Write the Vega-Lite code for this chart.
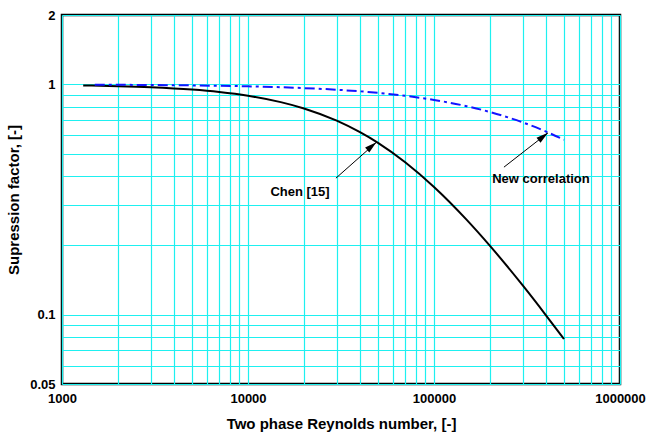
{
  "$schema": "https://vega.github.io/schema/vega-lite/v6.json",
  "width": 558,
  "height": 369,
  "autosize": {"type": "none"},
  "padding": {"left": 62, "top": 15, "right": 27, "bottom": 54},
  "background": "white",
  "config": {
    "font": "Liberation Sans",
    "view": {"stroke": "black", "strokeWidth": 2.5},
    "axis": {
      "labelFont": "Liberation Sans",
      "labelFontWeight": "bold",
      "labelFontSize": 13,
      "labelColor": "black",
      "titleFont": "Liberation Sans",
      "titleFontWeight": "bold",
      "titleFontSize": 15,
      "titleColor": "black",
      "ticks": false,
      "domain": false,
      "grid": true,
      "gridColor": "#1ef0f0",
      "gridWidth": 1.2,
      "gridOpacity": 1,
      "labelOverlap": false,
      "labelFlush": false
    }
  },
  "datasets": {
    "curves": [
      {"Re": 1300, "S": 0.989, "series": "Chen [15]"},
      {"Re": 2000, "S": 0.9819, "series": "Chen [15]"},
      {"Re": 3000, "S": 0.9712, "series": "Chen [15]"},
      {"Re": 5000, "S": 0.9489, "series": "Chen [15]"},
      {"Re": 7000, "S": 0.926, "series": "Chen [15]"},
      {"Re": 10000, "S": 0.8919, "series": "Chen [15]"},
      {"Re": 15000, "S": 0.837, "series": "Chen [15]"},
      {"Re": 20000, "S": 0.7857, "series": "Chen [15]"},
      {"Re": 30000, "S": 0.6953, "series": "Chen [15]"},
      {"Re": 40000, "S": 0.6196, "series": "Chen [15]"},
      {"Re": 50000, "S": 0.5568, "series": "Chen [15]"},
      {"Re": 70000, "S": 0.4587, "series": "Chen [15]"},
      {"Re": 100000, "S": 0.3583, "series": "Chen [15]"},
      {"Re": 150000, "S": 0.2579, "series": "Chen [15]"},
      {"Re": 200000, "S": 0.1989, "series": "Chen [15]"},
      {"Re": 300000, "S": 0.1339, "series": "Chen [15]"},
      {"Re": 400000, "S": 0.0994, "series": "Chen [15]"},
      {"Re": 500000, "S": 0.0784, "series": "Chen [15]"},
      {"Re": 1500, "S": 0.9965, "series": "New correlation"},
      {"Re": 2000, "S": 0.9954, "series": "New correlation"},
      {"Re": 3000, "S": 0.9934, "series": "New correlation"},
      {"Re": 5000, "S": 0.9894, "series": "New correlation"},
      {"Re": 7000, "S": 0.9856, "series": "New correlation"},
      {"Re": 10000, "S": 0.9802, "series": "New correlation"},
      {"Re": 15000, "S": 0.9714, "series": "New correlation"},
      {"Re": 20000, "S": 0.9631, "series": "New correlation"},
      {"Re": 30000, "S": 0.9473, "series": "New correlation"},
      {"Re": 50000, "S": 0.9183, "series": "New correlation"},
      {"Re": 70000, "S": 0.8918, "series": "New correlation"},
      {"Re": 100000, "S": 0.8559, "series": "New correlation"},
      {"Re": 150000, "S": 0.8035, "series": "New correlation"},
      {"Re": 200000, "S": 0.7582, "series": "New correlation"},
      {"Re": 300000, "S": 0.6836, "series": "New correlation"},
      {"Re": 400000, "S": 0.6237, "series": "New correlation"},
      {"Re": 500000, "S": 0.5745, "series": "New correlation"}
    ],
    "arrows": [
      {"label": "Chen [15]", "Re": 49000, "S": 0.56, "Re2": 29700, "S2": 0.3915},
      {"label": "New correlation", "Re": 410000, "S": 0.616, "Re2": 237700, "S2": 0.437}
    ],
    "labels": [
      {"label": "Chen [15]", "Re": 19040, "S": 0.34},
      {"label": "New correlation", "Re": 375800, "S": 0.3876}
    ]
  },
  "encoding": {
    "x": {
      "field": "Re", "type": "quantitative",
      "scale": {"type": "log", "domain": [1000, 1000000], "nice": false},
      "axis": {
        "title": "Two phase Reynolds number, [-]",
        "values": [1000, 2000, 3000, 4000, 5000, 6000, 7000, 8000, 9000, 10000, 20000, 30000, 40000, 50000, 60000, 70000, 80000, 90000, 100000, 200000, 300000, 400000, 500000, 600000, 700000, 800000, 900000, 1000000],
        "labelExpr": "(datum.value == 1000 || datum.value == 10000 || datum.value == 100000 || datum.value == 1000000) ? format(datum.value, 'd') : ''",
        "labelPadding": 8,
        "titlePadding": 11
      }
    },
    "y": {
      "field": "S", "type": "quantitative",
      "scale": {"type": "log", "domain": [0.05, 2], "nice": false},
      "axis": {
        "title": "Supression factor, [-]",
        "values": [0.05, 0.06, 0.07, 0.08, 0.09, 0.1, 0.2, 0.3, 0.4, 0.5, 0.6, 0.7, 0.8, 0.9, 1, 2],
        "labelExpr": "(datum.value == 0.05 || datum.value == 0.1 || datum.value == 1 || datum.value == 2) ? format(datum.value, '~g') : ''",
        "labelPadding": 7,
        "titlePadding": 8
      }
    }
  },
  "layer": [
    {
      "data": {"name": "curves"},
      "transform": [{"filter": "datum.series == 'Chen [15]'"}],
      "mark": {"type": "line", "color": "black", "strokeWidth": 2, "interpolate": "monotone", "clip": true},
      "encoding": {"order": {"field": "Re", "type": "quantitative"}}
    },
    {
      "data": {"name": "curves"},
      "transform": [{"filter": "datum.series == 'New correlation'"}],
      "mark": {"type": "line", "color": "#1414ff", "strokeWidth": 2, "strokeDash": [10, 4, 3, 4], "interpolate": "monotone", "clip": true},
      "encoding": {"order": {"field": "Re", "type": "quantitative"}}
    },
    {
      "data": {"name": "arrows"},
      "mark": {"type": "rule", "color": "black", "strokeWidth": 1},
      "encoding": {
        "x2": {"field": "Re2"},
        "y2": {"field": "S2"}
      }
    },
    {
      "data": {"name": "arrows"},
      "transform": [{"filter": "datum.label == 'Chen [15]'"}],
      "mark": {"type": "point", "shape": "M0,0 L-1.3,4.8 L1.3,4.8 Z", "size": 25, "filled": true, "color": "black", "opacity": 1, "angle": 50},
      "encoding": {}
    },
    {
      "data": {"name": "arrows"},
      "transform": [{"filter": "datum.label == 'New correlation'"}],
      "mark": {"type": "point", "shape": "M0,0 L-1.3,4.8 L1.3,4.8 Z", "size": 25, "filled": true, "color": "black", "opacity": 1, "angle": 52},
      "encoding": {}
    },
    {
      "data": {"name": "labels"},
      "mark": {"type": "text", "font": "Liberation Sans", "fontWeight": "bold", "fontSize": 13, "color": "black", "align": "center", "baseline": "middle"},
      "encoding": {"text": {"field": "label"}}
    }
  ]
}
